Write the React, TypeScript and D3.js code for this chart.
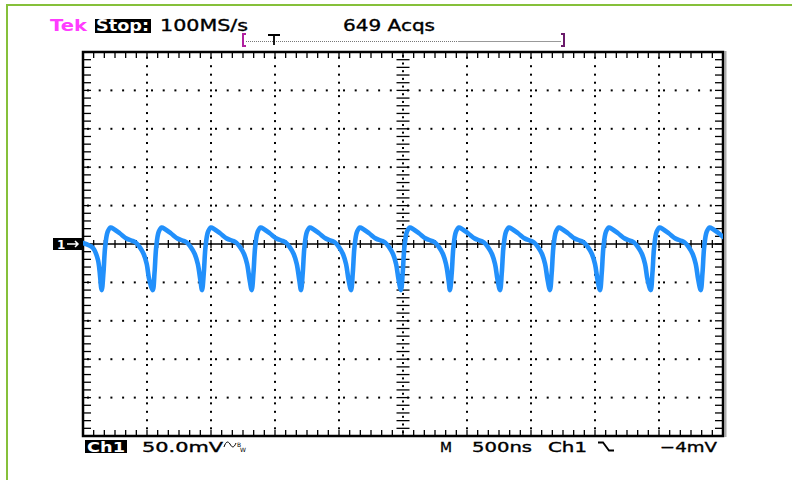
import * as d3 from "d3";

// scope settings
const TIME_PER_DIV_NS = 500;
const VOLT_PER_DIV_MV = 50;
const X_DIVS = 10;
const Y_DIVS = 10;

// falling spikes: time of each minimum (ns, trigger at 0)
const SPIKE_NS = [-2354, -1955, -1570, -1182, -797, -406, -16, 367, 758, 1148, 1539, 1935, 2326];
// one pulse, read from the first period: offset after the spike (ns) and level (mV)
const PULSE_OFFSET_NS = [0, 14, 27, 47, 70, 94, 141, 195, 234, 266, 297, 328, 352, 371];
const PULSE_MV = [-60, -37, -4, 16, 21.5, 19.5, 14, 7, 4.5, 2, -4, -13, -26, -46];
// trace before the first spike
const LEAD_NS = [-2500, -2422, -2383];
const LEAD_MV = [1.3, -5.2, -20.8];

const W = 792;
const H = 480;
const PLOT = { left: 83, right: 723, top: 52, bottom: 436 };
const FONT = "'DejaVu Sans', sans-serif";
const TRACE = "#2290fb";

export default function App() {
  const halfT = (X_DIVS / 2) * TIME_PER_DIV_NS;
  const halfV = (Y_DIVS / 2) * VOLT_PER_DIV_MV;
  const x = d3.scaleLinear().domain([-halfT, halfT]).range([PLOT.left, PLOT.right]);
  const y = d3.scaleLinear().domain([-halfV, halfV]).range([PLOT.bottom, PLOT.top]);

  const pts: [number, number][] = LEAD_NS.map((t, i) => [t, LEAD_MV[i]]);
  SPIKE_NS.forEach((s) => {
    PULSE_OFFSET_NS.forEach((o, i) => pts.push([s + o, PULSE_MV[i]]));
  });

  const line = d3
    .line<[number, number]>()
    .x((d) => x(d[0]))
    .y((d) => y(d[1]))
    .curve(d3.curveCatmullRom.alpha(0.5));

  const divW = (PLOT.right - PLOT.left) / X_DIVS;
  const divH = (PLOT.bottom - PLOT.top) / Y_DIVS;
  const cx = x(0);
  const cy = y(0);

  // minor tick positions
  const hTicks = d3.range(0, X_DIVS * 6 + 1).map((i) => PLOT.left + (i * divW) / 6);
  const vTicks = d3.range(0, Y_DIVS * 5 + 1).map((i) => PLOT.top + (i * divH) / 5);

  // dotted graticule
  const dots: [number, number][] = [];
  d3.range(1, X_DIVS).forEach((i) => {
    if (i === X_DIVS / 2) return;
    const gx = PLOT.left + i * divW;
    d3.range(0, Y_DIVS).forEach((j) => {
      [0, 0.15, 0.37, 0.59, 0.8].forEach((f) => {
        const gy = PLOT.top + (j + f) * divH;
        if (gy > PLOT.top + 3) dots.push([gx, gy]);
      });
    });
  });
  d3.range(1, Y_DIVS).forEach((j) => {
    if (j === Y_DIVS / 2) return;
    const gy = PLOT.top + j * divH;
    d3.range(0, X_DIVS).forEach((i) => {
      [5, 16.7, 28.4, 40.1, 51.8].forEach((o) => {
        const gx = PLOT.left + i * divW + o;
        dots.push([gx, gy]);
      });
    });
  });
  // dots on centre vertical axis between its ticks
  d3.range(0, Y_DIVS).forEach((j) => {
    [0.1, 0.3, 0.5, 0.7, 0.9].forEach((f) => dots.push([cx, PLOT.top + (j + f) * divH]));
  });

  const txt = { fontFamily: FONT, fill: "#000", stroke: "#000", strokeWidth: 0.35 };

  return (
    <div style={{ position: "absolute", left: 0, top: 0 }}>
      <svg width={W} height={H} style={{ display: "block", background: "#fff" }}>
        <defs>
          <clipPath id="scr">
            <rect x={PLOT.left} y={PLOT.top} width={PLOT.right - PLOT.left} height={PLOT.bottom - PLOT.top} />
          </clipPath>
        </defs>

        {/* outer green frame */}
        <rect x={7} y={5} width={820} height={520} fill="none" stroke="#86c03a" strokeWidth={2} />

        {/* header */}
        <text x={50} y={31} fontFamily={FONT} fontSize={16} fontWeight="bold" fill="#ff3cff" textLength={37} lengthAdjust="spacingAndGlyphs">
          Tek
        </text>
        <rect x={95} y={19} width={56} height={14} fill="#000" />
        <text x={96} y={31} fontFamily={FONT} fontSize={15} fontWeight="bold" fill="#fff" textLength={53} lengthAdjust="spacingAndGlyphs">
          Stop:
        </text>
        <text x={160} y={31} {...txt} fontSize={16} textLength={88} lengthAdjust="spacingAndGlyphs">
          100MS/s
        </text>
        <text x={343} y={31} {...txt} fontSize={16} textLength={92} lengthAdjust="spacingAndGlyphs">
          649 Acqs
        </text>

        {/* record / trigger bar */}
        <line x1={246} x2={458} y1={41.5} y2={41.5} stroke="#777" strokeWidth={1} strokeDasharray="1,1" />
        <line x1={458} x2={561} y1={41.5} y2={41.5} stroke="#999" strokeWidth={1.2} />
        <path d="M246,34 L243,34 L243,46 L246,46" fill="none" stroke="#b0209f" strokeWidth={2} />
        <path d="M561,34 L564,34 L564,46 L561,46" fill="none" stroke="#6a1a6a" strokeWidth={2} />
        <path d="M268,35 L280,35 M274,35 L274,45" fill="none" stroke="#000" strokeWidth={1.8} />

        {/* graticule */}
        <g fill="#000">
          {dots.map(([dx, dy], i) => (
            <rect key={i} x={dx - 1} y={dy - 1} width={2} height={2} />
          ))}
        </g>
        <g stroke="#000" strokeWidth={1.3}>
          {hTicks.map((tx, i) => (
            <g key={"h" + i}>
              <line x1={tx} x2={tx} y1={PLOT.top} y2={PLOT.top + 6} />
              <line x1={tx} x2={tx} y1={PLOT.bottom} y2={PLOT.bottom - 6} />
              <line x1={tx} x2={tx} y1={cy - 4} y2={cy + 4} />
            </g>
          ))}
          {vTicks.map((ty, i) => (
            <g key={"v" + i}>
              <line x1={PLOT.left} x2={PLOT.left + 8} y1={ty} y2={ty} />
              <line x1={PLOT.right} x2={PLOT.right - 8} y1={ty} y2={ty} />
              <line x1={cx - 6.5} x2={cx + 6.5} y1={ty} y2={ty} />
            </g>
          ))}
          <line x1={PLOT.left} x2={PLOT.right} y1={cy} y2={cy} strokeWidth={1.6} />
        </g>
        <line x1={PLOT.right + 2.5} x2={PLOT.right + 2.5} y1={PLOT.top - 1} y2={PLOT.bottom + 1} stroke="#aaa" strokeWidth={2} />
        <rect
          x={PLOT.left}
          y={PLOT.top}
          width={PLOT.right - PLOT.left}
          height={PLOT.bottom - PLOT.top}
          fill="none"
          stroke="#000"
          strokeWidth={2.5}
        />

        {/* channel 1 ground marker */}
        <rect x={53} y={cy - 6} width={29} height={12} fill="#000" />
        <text x={57} y={cy + 5} fontFamily={FONT} fontSize={12} fontWeight="bold" fill="#fff">
          1
        </text>
        <path d={`M67,${cy} L78,${cy} M75,${cy - 3} L78,${cy} L75,${cy + 3}`} fill="none" stroke="#fff" strokeWidth={1.5} />

        {/* trace */}
        <path
          d={line(pts) ?? ""}
          clipPath="url(#scr)"
          fill="none"
          stroke={TRACE}
          strokeWidth={4.6}
          strokeLinejoin="round"
          strokeLinecap="round"
        />

        {/* footer */}
        <rect x={85} y={440} width={42} height={13} fill="#000" />
        <text x={87} y={452} fontFamily={FONT} fontSize={14} fontWeight="bold" fill="#fff" textLength={38} lengthAdjust="spacingAndGlyphs">
          Ch1
        </text>
        <text x={142} y={452} {...txt} fontSize={14} textLength={81} lengthAdjust="spacingAndGlyphs">
          50.0mV
        </text>
        <path d="M224,447 C226,441 228,441 230,444 C232,448 234,448 236,443" fill="none" stroke="#000" strokeWidth={1} />
        <text x={237} y={447} fontFamily={FONT} fontSize={6} fill="#000">B</text>
        <text x={240} y={452} fontFamily={FONT} fontSize={6} fill="#000">W</text>

        <text x={440} y={452} {...txt} fontSize={14} textLength={12} lengthAdjust="spacingAndGlyphs">
          M
        </text>
        <text x={472} y={452} {...txt} fontSize={14} textLength={60} lengthAdjust="spacingAndGlyphs">
          500ns
        </text>
        <text x={548} y={452} {...txt} fontSize={14} textLength={39} lengthAdjust="spacingAndGlyphs">
          Ch1
        </text>
        <path d="M598,442.5 L603,442.5 L609,450.5 L614,450.5" fill="none" stroke="#000" strokeWidth={1.8} />
        <text x={660} y={452} {...txt} fontSize={14} textLength={57} lengthAdjust="spacingAndGlyphs">
          −4mV
        </text>
      </svg>
    </div>
  );
}
